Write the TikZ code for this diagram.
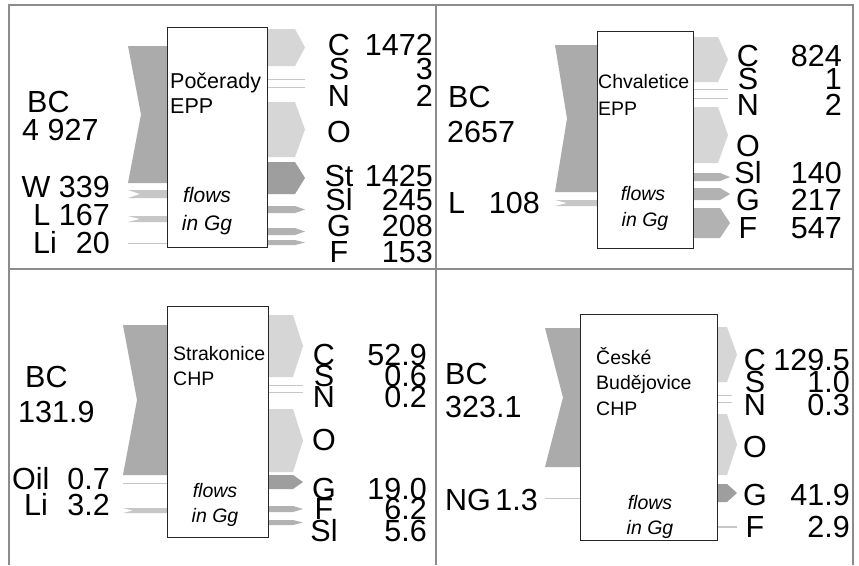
\documentclass[tikz,border=0pt]{standalone}
\usepackage{fontspec}
\setmainfont{Liberation Sans}
\newcommand\outarr[5]{\fill[#5] (#1,#2) -- ({#4-10},#2) -- (#4,{(#2+#3)/2}) -- ({#4-10},#3) -- (#1,#3) -- cycle;}
\newcommand\inarr[6]{\fill[#6] (#1,#2) -- (#4,#2) -- (#4,#3) -- (#1,#3) -- ({#1+#5},{(#2+#3)/2}) -- cycle;}
\begin{document}
\begin{tikzpicture}[x=1pt,y=-1pt,
  big/.style={inner sep=0pt, font=\fontsize{30.5}{30}\selectfont},
  lab/.style={inner sep=0pt, anchor=base west, font=\fontsize{19.5}{20}\selectfont},
  labbig/.style={inner sep=0pt, anchor=base west, font=\fontsize{21.5}{22}\selectfont},
  flw/.style={inner sep=0pt, anchor=base, font=\fontsize{19.5}{20}\selectfont\itshape},
  flwbig/.style={inner sep=0pt, anchor=base, font=\fontsize{21}{22}\selectfont\itshape},
  plant/.style={draw=black!85, line width=1.3pt, fill=white, inner sep=0pt, anchor=north west},
  frameline/.style={draw=black!45, line width=1.2pt},
  inflow/.style={fill=black!33},
  inlight/.style={fill=black!22},
  light/.style={fill=black!16},
  dark/.style={fill=black!38},
  mid/.style={fill=black!30},
  thinflow/.style={draw=black!22, line width=0.9pt},
]
\useasboundingbox (0,0) rectangle (859,565);
\fill[white] (0,0) rectangle (859,565);
% frame
\draw[frameline] (9,565) -- (9,5) -- (853,5) -- (853,565);
\draw[frameline] (436,5) -- (436,565);
\draw[frameline] (9,269) -- (853,269);

% ===== Q1 Pocerady
\inarr{128}{46}{183}{190}{13}{inflow}
\inarr{128}{190}{198}{190}{12}{inlight}
\inarr{128}{216}{222}{190}{12}{inlight}
\coordinate (q1li) at (128,243);
\outarr{250}{29}{66}{305}{light}
\outarr{250}{102}{157}{305}{light}
\outarr{250}{162}{194}{305}{dark}
\outarr{250}{206}{213}{305}{mid}
\outarr{250}{228}{235}{305}{mid}
\outarr{250}{240}{245}{305}{mid}
\node[plant, minimum width=100pt, minimum height=220pt] (P) at (167,27) {};
\coordinate (q1s) at (305,79);
\coordinate (q1n) at (305,87);
\draw[thinflow] (q1li) -- (q1li -| P.west);
\draw[thinflow] (q1s -| P.east) -- (q1s);
\draw[thinflow] (q1n -| P.east) -- (q1n);
\node[labbig] (Pn1) at (170,88) {Počerady};
\node[labbig] (Pn2) at (170,113) {EPP};
\node[flwbig] (Pf1) at (207,202) {flows};
\node[flwbig] (Pf2) at (207,230) {in Gg};
\node[big, anchor=base west] (Pbc) at (27,112) {BC};
\node[big, anchor=base west] (Pbcv) at (22,140) {4 927};
\node[big, anchor=base east] (Pw) at (110,197) {W 339};
\node[big, anchor=base east] (Pl) at (110,225) {L 167};
\node[big, anchor=base west] (Pli) at (33,253) {Li};
\node[big, anchor=base east] (Pliv) at (110,253) {20};
\node[big, anchor=base] (PC) at (339,55) {C};
\node[big, anchor=base] (PS) at (339,79) {S};
\node[big, anchor=base] (PN) at (339,106) {N};
\node[big, anchor=base] (PO) at (339,142) {O};
\node[big, anchor=base] (PSt) at (339,186) {St};
\node[big, anchor=base] (PSl) at (339,210) {Sl};
\node[big, anchor=base] (PG) at (339,236) {G};
\node[big, anchor=base] (PF) at (339,262) {F};
\node[big, anchor=base east] (PCv) at (433,55) {1472};
\node[big, anchor=base east] (PSv) at (433,79) {3};
\node[big, anchor=base east] (PNv) at (433,106) {2};
\node[big, anchor=base east] (PStv) at (433,186) {1425};
\node[big, anchor=base east] (PSlv) at (433,210) {245};
\node[big, anchor=base east] (PGv) at (433,236) {208};
\node[big, anchor=base east] (PFv) at (433,262) {153};

% ===== Q2 Chvaletice
\inarr{555}{45}{192}{620}{12}{inflow}
\inarr{555}{200}{206}{620}{12}{inlight}
\outarr{680}{37}{82}{728}{light}
\outarr{680}{107}{163}{728}{light}
\outarr{680}{173}{181}{730}{mid}
\outarr{680}{188}{200}{730}{mid}
\outarr{680}{208}{238}{730}{mid}
\node[plant, minimum width=96pt, minimum height=217pt] (Q) at (597,31) {};
\coordinate (q2s) at (728,89);
\coordinate (q2n) at (728,98);
\draw[thinflow] (q2s -| Q.east) -- (q2s);
\draw[thinflow] (q2n -| Q.east) -- (q2n);
\node[lab] (Qn1) at (598,88) {Chvaletice};
\node[lab] (Qn2) at (598,115) {EPP};
\node[flw] (Qf1) at (643,200) {flows};
\node[flw] (Qf2) at (645,226) {in Gg};
\node[big, anchor=base west] (Qbc) at (448,107) {BC};
\node[big, anchor=base west] (Qbcv) at (447,142) {2657};
\node[big, anchor=base west] (Ql) at (448,213) {L};
\node[big, anchor=base east] (Qlv) at (540,213) {108};
\node[big, anchor=base] (QC) at (748,66) {C};
\node[big, anchor=base] (QS) at (748,89) {S};
\node[big, anchor=base] (QN) at (748,115) {N};
\node[big, anchor=base] (QO) at (748,156) {O};
\node[big, anchor=base] (QSl) at (748,183) {Sl};
\node[big, anchor=base] (QG) at (748,210) {G};
\node[big, anchor=base] (QF) at (748,238) {F};
\node[big, anchor=base east] (QCv) at (842,66) {824};
\node[big, anchor=base east] (QSv) at (842,89) {1};
\node[big, anchor=base east] (QNv) at (842,115) {2};
\node[big, anchor=base east] (QSlv) at (842,183) {140};
\node[big, anchor=base east] (QGv) at (842,210) {217};
\node[big, anchor=base east] (QFv) at (842,238) {547};

% ===== Q3 Strakonice
\inarr{123}{325}{475}{190}{14}{inflow}
\inarr{123}{508}{513}{190}{10}{inlight}
\coordinate (q3oil) at (123,483);
\outarr{250}{315}{377}{303}{light}
\outarr{250}{409}{472}{303}{light}
\outarr{250}{475}{489}{303}{dark}
\outarr{250}{506}{512}{303}{mid}
\outarr{250}{520}{525}{303}{mid}
\node[plant, minimum width=101pt, minimum height=231pt] (R) at (167,306) {};
\coordinate (q3s) at (303,385);
\coordinate (q3n) at (303,392);
\draw[thinflow] (q3oil) -- (q3oil -| R.west);
\draw[thinflow] (q3s -| R.east) -- (q3s);
\draw[thinflow] (q3n -| R.east) -- (q3n);
\node[lab] (Rn1) at (173,360) {Strakonice};
\node[lab] (Rn2) at (173,385) {CHP};
\node[flw] (Rf1) at (215,497) {flows};
\node[flw] (Rf2) at (215,522) {in Gg};
\node[big, anchor=base west] (Rbc) at (25,387) {BC};
\node[big, anchor=base west] (Rbcv) at (18,422) {131.9};
\node[big, anchor=base west] (Roil) at (12,489) {Oil};
\node[big, anchor=base east] (Roilv) at (110,489) {0.7};
\node[big, anchor=base west] (Rli) at (24,515) {Li};
\node[big, anchor=base east] (Rliv) at (110,515) {3.2};
\node[big, anchor=base] (RC) at (324,365) {C};
\node[big, anchor=base] (RS) at (324,386) {S};
\node[big, anchor=base] (RN) at (324,407) {N};
\node[big, anchor=base] (RO) at (324,450) {O};
\node[big, anchor=base] (RG) at (324,499) {G};
\node[big, anchor=base] (RF) at (324,519) {F};
\node[big, anchor=base] (RSl) at (324,541) {Sl};
\node[big, anchor=base east] (RCv) at (427,365) {52.9};
\node[big, anchor=base east] (RSv) at (427,386) {0.6};
\node[big, anchor=base east] (RNv) at (427,407) {0.2};
\node[big, anchor=base east] (RGv) at (427,499) {19.0};
\node[big, anchor=base east] (RFv) at (427,519) {6.2};
\node[big, anchor=base east] (RSlv) at (427,541) {5.6};

% ===== Q4 Ceske Budejovice
\inarr{545}{328}{467}{600}{18}{inflow}
\coordinate (q4ng) at (545,498);
\outarr{700}{327}{382}{737}{light}
\outarr{700}{414}{475}{737}{light}
\outarr{700}{484}{502}{737}{dark}
\node[plant, minimum width=137pt, minimum height=226pt] (T) at (580,314) {};
\coordinate (q4s) at (732,395);
\coordinate (q4n) at (732,402);
\coordinate (q4f) at (737,527);
\draw[thinflow] (q4ng) -- (q4ng -| T.west);
\draw[thinflow] (q4s -| T.east) -- (q4s);
\draw[thinflow] (q4n -| T.east) -- (q4n);
\draw[thinflow, line width=1.2pt] (q4f -| T.east) -- (q4f);
\node[lab] (Tn1) at (596,364) {České};
\node[lab] (Tn2) at (596,389) {Budějovice};
\node[lab] (Tn3) at (596,415) {CHP};
\node[flw] (Tf1) at (650,509) {flows};
\node[flw] (Tf2) at (650,534) {in Gg};
\node[big, anchor=base west] (Tbc) at (445,384) {BC};
\node[big, anchor=base west] (Tbcv) at (445,417) {323.1};
\node[big, anchor=base west] (Tng) at (445,510) {NG};
\node[big, anchor=base east] (Tngv) at (538,510) {1.3};
\node[big, anchor=base] (TC) at (755,370) {C};
\node[big, anchor=base] (TS) at (755,392) {S};
\node[big, anchor=base] (TN) at (755,415) {N};
\node[big, anchor=base] (TO) at (755,457) {O};
\node[big, anchor=base] (TG) at (755,505) {G};
\node[big, anchor=base] (TF) at (755,537) {F};
\node[big, anchor=base east] (TCv) at (850,370) {129.5};
\node[big, anchor=base east] (TSv) at (850,392) {1.0};
\node[big, anchor=base east] (TNv) at (850,415) {0.3};
\node[big, anchor=base east] (TGv) at (850,505) {41.9};
\node[big, anchor=base east] (TFv) at (850,537) {2.9};
\end{tikzpicture}
\end{document}
